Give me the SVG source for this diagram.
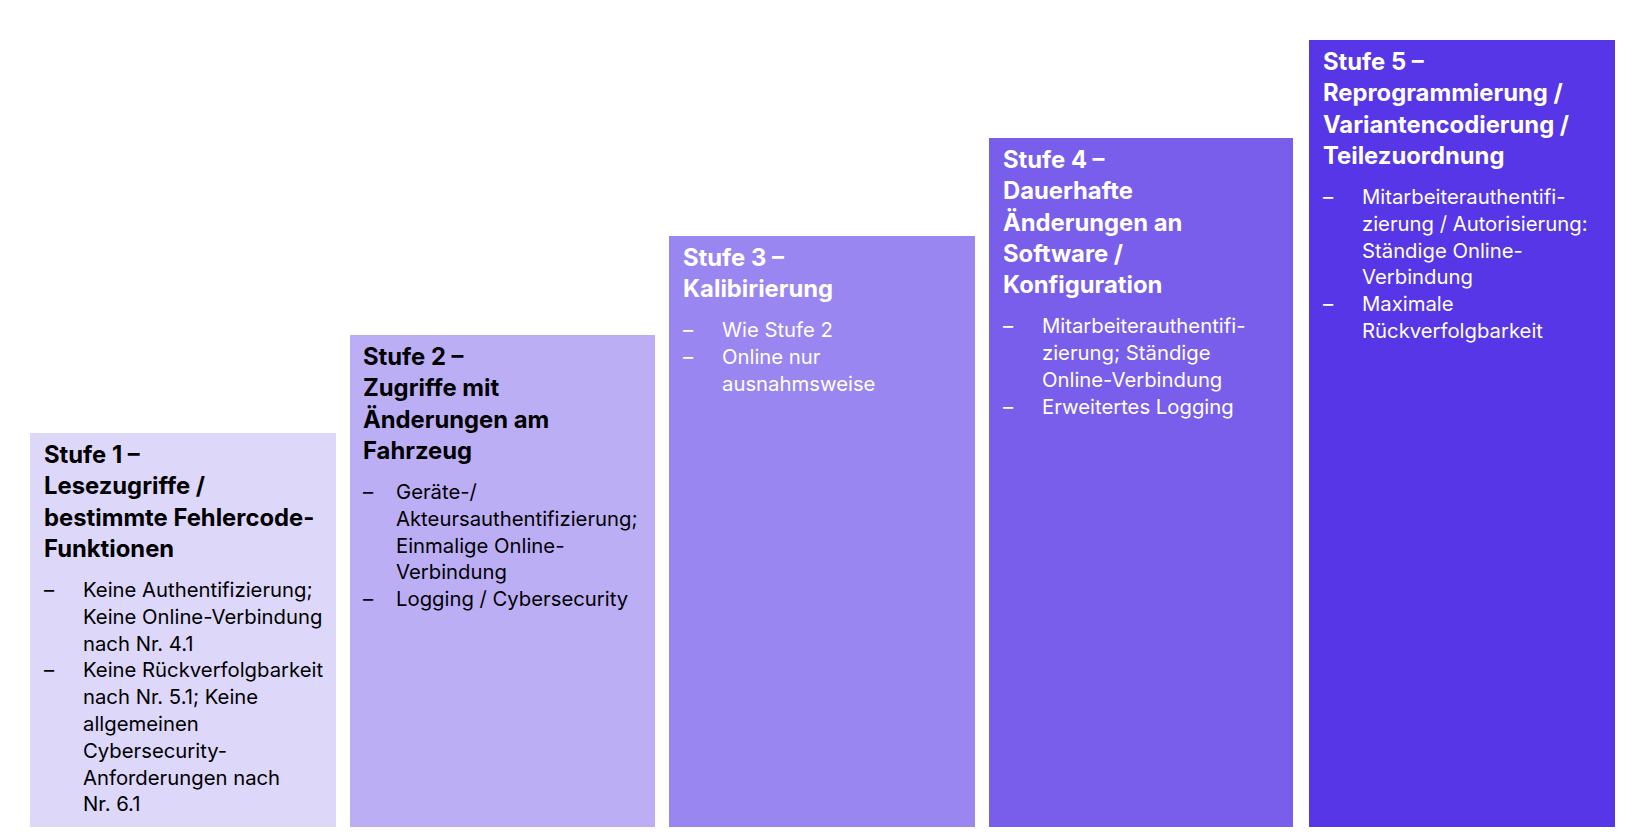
<svg xmlns="http://www.w3.org/2000/svg" width="1639" height="838" viewBox="0 0 1639 838">
<style>
  .bg { fill: #ffffff; }
  .t { font-family: Inter, "Noto Sans", "Liberation Sans", sans-serif; font-weight: 700; font-size: 23.8px; }
  .b { font-family: Inter, "Noto Sans", "Liberation Sans", sans-serif; font-weight: 400; font-size: 20.3px; }
  .dark { fill: #000000; }
  .light { fill: #ffffff; }
</style>
<rect class="bg" x="0" y="0" width="1639" height="838"/>
<g id="connectors"/>
<g id="stufe1">
  <rect x="30" y="433" width="306" height="394" fill="#DDD7FA"/>
  <text class="t dark">
    <tspan x="44" y="463">Stufe 1 –</tspan>
    <tspan x="44" y="494.3">Lesezugriffe /</tspan>
    <tspan x="44" y="525.6">bestimmte Fehlercode-</tspan>
    <tspan x="44" y="557">Funktionen</tspan>
  </text>
  <text class="b dark">
    <tspan x="44" y="597">–</tspan>
    <tspan x="44" y="677.4">–</tspan>
  </text>
  <text class="b dark">
    <tspan x="83" y="597">Keine Authentifizierung;</tspan>
    <tspan x="83" y="623.8">Keine Online-Verbindung</tspan>
    <tspan x="83" y="650.6">nach Nr. 4.1</tspan>
    <tspan x="83" y="677.4">Keine Rückverfolgbarkeit</tspan>
    <tspan x="83" y="704.2">nach Nr. 5.1; Keine</tspan>
    <tspan x="83" y="731">allgemeinen</tspan>
    <tspan x="83" y="757.8">Cybersecurity-</tspan>
    <tspan x="83" y="784.6">Anforderungen nach</tspan>
    <tspan x="83" y="811.4">Nr. 6.1</tspan>
  </text>
</g>
<g id="stufe2">
  <rect x="350" y="335" width="305" height="492" fill="#BCAEF5"/>
  <text class="t dark">
    <tspan x="363" y="365">Stufe 2 –</tspan>
    <tspan x="363" y="396.3">Zugriffe mit</tspan>
    <tspan x="363" y="427.6">Änderungen am</tspan>
    <tspan x="363" y="459">Fahrzeug</tspan>
  </text>
  <text class="b dark">
    <tspan x="363" y="499">–</tspan>
    <tspan x="363" y="606.2">–</tspan>
  </text>
  <text class="b dark">
    <tspan x="396" y="499">Geräte-/</tspan>
    <tspan x="396" y="525.8">Akteursauthentifizierung;</tspan>
    <tspan x="396" y="552.6">Einmalige Online-</tspan>
    <tspan x="396" y="579.4">Verbindung</tspan>
    <tspan x="396" y="606.2">Logging / Cybersecurity</tspan>
  </text>
</g>
<g id="stufe3">
  <rect x="669" y="236" width="306" height="591" fill="#9A86F0"/>
  <text class="t light">
    <tspan x="683" y="266">Stufe 3 –</tspan>
    <tspan x="683" y="297.3">Kalibirierung</tspan>
  </text>
  <text class="b light">
    <tspan x="683" y="337.3">–</tspan>
    <tspan x="683" y="364.1">–</tspan>
  </text>
  <text class="b light">
    <tspan x="722" y="337.3">Wie Stufe 2</tspan>
    <tspan x="722" y="364.1">Online nur</tspan>
    <tspan x="722" y="390.9">ausnahmsweise</tspan>
  </text>
</g>
<g id="stufe4">
  <rect x="989" y="138" width="304" height="689" fill="#785EEB"/>
  <text class="t light">
    <tspan x="1003" y="168">Stufe 4 –</tspan>
    <tspan x="1003" y="199.3">Dauerhafte</tspan>
    <tspan x="1003" y="230.6">Änderungen an</tspan>
    <tspan x="1003" y="262">Software /</tspan>
    <tspan x="1003" y="293.3">Konfiguration</tspan>
  </text>
  <text class="b light">
    <tspan x="1003" y="333.3">–</tspan>
    <tspan x="1003" y="413.7">–</tspan>
  </text>
  <text class="b light">
    <tspan x="1042" y="333.3">Mitarbeiterauthentifi-</tspan>
    <tspan x="1042" y="360.1">zierung; Ständige</tspan>
    <tspan x="1042" y="386.9">Online-Verbindung</tspan>
    <tspan x="1042" y="413.7">Erweitertes Logging</tspan>
  </text>
</g>
<g id="stufe5">
  <rect x="1309" y="40" width="306" height="787" fill="#5636E6"/>
  <text class="t light">
    <tspan x="1323" y="70">Stufe 5 –</tspan>
    <tspan x="1323" y="101.3">Reprogrammierung /</tspan>
    <tspan x="1323" y="132.6">Variantencodierung /</tspan>
    <tspan x="1323" y="164">Teilezuordnung</tspan>
  </text>
  <text class="b light">
    <tspan x="1323" y="204">–</tspan>
    <tspan x="1323" y="311.2">–</tspan>
  </text>
  <text class="b light">
    <tspan x="1362" y="204">Mitarbeiterauthentifi-</tspan>
    <tspan x="1362" y="230.8">zierung / Autorisierung:</tspan>
    <tspan x="1362" y="257.6">Ständige Online-</tspan>
    <tspan x="1362" y="284.4">Verbindung</tspan>
    <tspan x="1362" y="311.2">Maximale</tspan>
    <tspan x="1362" y="338">Rückverfolgbarkeit</tspan>
  </text>
</g>
</svg>
